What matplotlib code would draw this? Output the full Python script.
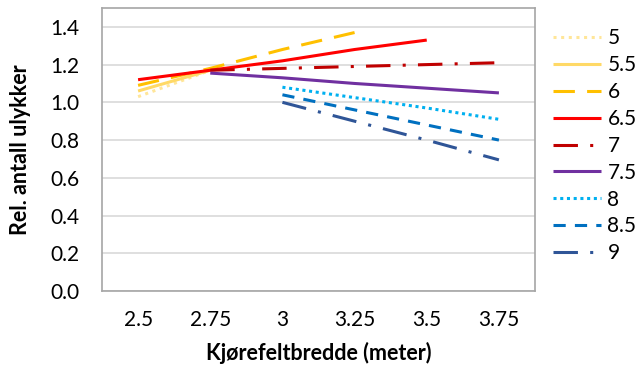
import matplotlib
matplotlib.use("Agg")
import matplotlib.pyplot as plt

categories = ["2.5", "2.75", "3", "3.25", "3.5", "3.75"]
series_names = ["5", "5.5", "6", "6.5", "7", "7.5", "8", "8.5", "9"]
s5 = [1.03, 1.17, None, None, None, None]
s55 = [1.06, 1.17, None, None, None, None]
s6 = [1.09, 1.18, 1.28, 1.37, None, None]
s65 = [1.12, 1.17, 1.22, 1.28, 1.33, None]
s7 = [None, 1.17, 1.18, 1.19, 1.20, 1.21]
s75 = [None, 1.155, 1.13, 1.10, 1.075, 1.05]
s8 = [None, None, 1.08, 1.025, 0.97, 0.91]
s85 = [None, None, 1.04, 0.96, 0.88, 0.80]
s9 = [None, None, 1.00, 0.90, 0.80, 0.695]
values = [s5, s55, s6, s65, s7, s75, s8, s85, s9]
yticks = [0, 0.2, 0.4, 0.6, 0.8, 1.0, 1.2, 1.4]

colors = ["#FFE699", "#FFD966", "#FFC000", "#FF0000", "#C00000",
          "#7030A0", "#00B0F0", "#0070C0", "#2F5597"]
styles = [(0, (1, 1.5)), "-", (0, (7, 4)), "-", (0, (8, 4, 1, 4)),
          "-", (0, (1, 1.2)), (0, (4, 3)), (0, (8, 4, 1, 4))]

plt.rcParams["font.family"] = ["Lato", "DejaVu Sans"]
fig = plt.figure(figsize=(6.36, 3.69), dpi=100)
ax = fig.add_axes([102/636, 1-291/369, (535-102)/636, (291-8)/369])

xs = list(range(len(categories)))
for name, vals, c, ls in zip(series_names, values, colors, styles):
    px = [x for x, v in zip(xs, vals) if v is not None]
    py = [v for v in vals if v is not None]
    ax.plot(px, py, color=c, linestyle=ls, linewidth=2.2, label=name,
            solid_capstyle="butt", dash_capstyle="butt")

ax.set_xlim(-0.5, len(categories) - 0.5)
ax.set_ylim(0, 1.5)
ax.set_xticks(xs)
ax.set_xticklabels(categories)
ax.set_yticks(yticks)
ax.set_yticklabels([f"{v:.1f}" for v in yticks])
ax.tick_params(length=0, labelsize=15, colors="black")
ax.tick_params(axis="x", pad=14)
ax.tick_params(axis="y", pad=16)
ax.grid(axis="y", color="#D9D9D9", linewidth=1.2)
ax.set_axisbelow(True)
for sp in ax.spines.values():
    sp.set_color("#A6A6A6")
    sp.set_linewidth(1.2)

ax.set_xlabel("Kjørefeltbredde (meter)", fontsize=15.5, fontweight="bold", labelpad=8)
ax.set_ylabel("Rel. antall ulykker", fontsize=15.5, fontweight="bold", labelpad=14)

leg = fig.legend(loc="upper left", bbox_to_anchor=(545/636, 1-20/369),
                 frameon=False, fontsize=15, handlelength=2.3,
                 handletextpad=0.3, labelspacing=0.33, borderaxespad=0)

fig.savefig("out.png", dpi=100)
